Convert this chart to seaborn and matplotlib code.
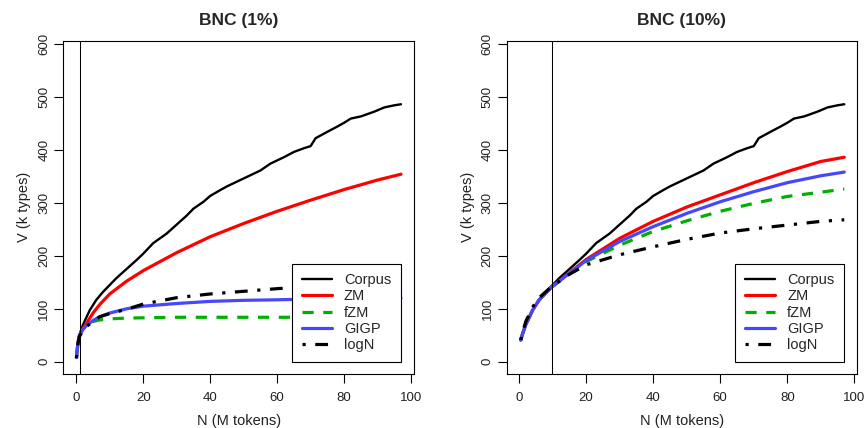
import matplotlib
matplotlib.use("Agg")
import matplotlib.pyplot as plt
from matplotlib.lines import Line2D
import seaborn as sns
import pandas as pd

# Observed vocabulary growth of the full corpus (N in M tokens, V in k types)
corpus_n = [0.5, 1, 2, 4, 6, 8, 10, 12, 15, 18, 20, 23, 25, 27, 30, 33, 35, 38, 40,
            43, 45, 48, 51, 55, 58, 62, 65, 68, 70, 71.5, 75, 78, 80, 82, 85, 89,
            92, 95, 97]
corpus_v = [41, 52, 70, 97, 117, 132, 145, 158, 175, 192, 204, 224, 233, 242, 259,
            276, 289, 302, 313, 324, 331, 340, 349, 361, 374, 386, 396, 403, 407,
            422, 434, 444, 451, 459, 463, 472, 480, 484, 486]

# Model extrapolations from the 1% sample
n_1pct = [0.05, 0.5, 0.97, 2, 3, 5, 7, 10, 15, 20, 30, 40, 50, 60, 70, 80, 90, 97]
zm_1pct = [8, 36, 50, 63, 72, 92, 108, 128, 152, 172, 206, 236, 261, 284, 305, 325, 343, 354]
fzm_1pct = [8, 36, 50, 62, 69, 76, 79, 81, 82.5, 83, 84, 84, 84, 84, 84, 84, 84, 84]
gigp_1pct = [8, 36, 50, 61, 68, 78, 85, 92, 100, 105, 110, 114, 116, 117, 118.5, 119.5, 120, 120]
logn_1pct = [7, 34, 48, 59, 66, 77, 85, 91, 99, 109, 121, 128, 133, 138, 142, 146, 149, 151]

# Model extrapolations from the 10% sample
n_10pct = [0.5, 1, 2, 4, 6, 9.7, 15, 20, 30, 40, 50, 60, 70, 80, 90, 97]
zm_10pct = [41, 52, 70, 97, 117, 141, 168, 193, 233, 265, 292, 315, 338, 359, 378, 386]
fzm_10pct = [41, 52, 70, 97, 117, 141, 166, 189, 220, 246, 266, 284, 299, 312, 320, 326]
gigp_10pct = [41, 52, 70, 97, 117, 141, 167, 191, 227, 255, 280, 302, 321, 338, 351, 358]
logn_10pct = [41, 55, 76, 103, 121, 142, 165, 183, 202, 217, 231, 243, 251, 258, 265, 268]

panel_titles = ["BNC (1%)", "BNC (10%)"]
sample_sizes = [0.97, 9.7]
x_ticks = [0, 20, 40, 60, 80, 100]
y_ticks = [0, 100, 200, 300, 400, 500, 600]
series_labels = ["Corpus", "ZM", "fZM", "GIGP", "logN"]

sns.set_theme(style="ticks")
plt.rcParams["font.family"] = ["Liberation Sans", "DejaVu Sans"]
plt.rcParams["axes.edgecolor"] = "black"
plt.rcParams["axes.linewidth"] = 0.8

RED = "#ff0000"
GREEN = "#00b000"
BLUE = "#4646ff"
styles = {
    "Corpus": dict(color="black", linewidth=1.7, linestyle="-"),
    "ZM": dict(color=RED, linewidth=2.3, linestyle="-"),
    "fZM": dict(color=GREEN, linewidth=2.3, linestyle=(0, (3.5, 3.0))),
    "GIGP": dict(color=BLUE, linewidth=2.3, linestyle="-"),
    "logN": dict(color="black", linewidth=2.3, linestyle=(0, (1, 3, 4, 3))),
}

panels = [
    (n_1pct, {"ZM": zm_1pct, "fZM": fzm_1pct, "GIGP": gigp_1pct, "logN": logn_1pct}),
    (n_10pct, {"ZM": zm_10pct, "fZM": fzm_10pct, "GIGP": gigp_10pct, "logN": logn_10pct}),
]

fig = plt.figure(figsize=(8.67, 4.28), dpi=100)
axes_rects = [[0.0730, 0.1262, 0.4045, 0.7788], [0.5844, 0.1262, 0.4037, 0.7788]]
xlims = [(-3.88, 100.88), (-3.7, 100.7)]

for i, (rect, (grid, models)) in enumerate(zip(axes_rects, panels)):
    ax = fig.add_axes(rect)
    df_c = pd.DataFrame({"N": corpus_n, "V": corpus_v})
    sns.lineplot(data=df_c, x="N", y="V", ax=ax, **styles["Corpus"])
    for name in ["ZM", "fZM", "GIGP", "logN"]:
        df = pd.DataFrame({"N": grid, "V": models[name]})
        sns.lineplot(data=df, x="N", y="V", ax=ax, **styles[name])
    for ln in ax.lines:
        ln.set_solid_capstyle("round")
        ln.set_dash_capstyle("butt")
    ax.axvline(sample_sizes[i], color="black", linewidth=0.75)

    ax.set_xlim(*xlims[i])
    ax.set_ylim(-23, 606)
    ax.set_xticks(x_ticks)
    ax.set_yticks(y_ticks)
    ax.tick_params(axis="both", direction="out", length=6.3, width=0.8,
                   color="black", labelsize=9.5, labelcolor="#222222")
    ax.tick_params(axis="x", pad=7)
    ax.tick_params(axis="y", pad=3)
    for lab in ax.get_yticklabels():
        lab.set_rotation(90)
        lab.set_va("center")
        lab.set_ha("right")
    for sp in ax.spines.values():
        sp.set_visible(True)
        sp.set_color("black")
        sp.set_linewidth(0.8)
    ax.set_xlabel("N (M tokens)", fontsize=10.5, labelpad=7, color="#222222")
    ax.set_ylabel("V (k types)", fontsize=10.5, labelpad=5, color="#222222")
    ax.set_title(panel_titles[i], fontsize=12.5, fontweight="bold", pad=11)

    handles = [Line2D([0], [0], **styles[k]) for k in series_labels]
    leg = ax.legend(handles, series_labels, loc="lower right",
                    bbox_to_anchor=(97, 0), bbox_transform=ax.transData,
                    fontsize=10.5, frameon=True, fancybox=False, framealpha=1,
                    edgecolor="black", handlelength=2.05, handletextpad=0.84,
                    labelspacing=0.15, borderpad=0.67, borderaxespad=0)
    leg.get_frame().set_linewidth(0.8)
    leg.set_zorder(5)

fig.savefig("out.png", dpi=100)
